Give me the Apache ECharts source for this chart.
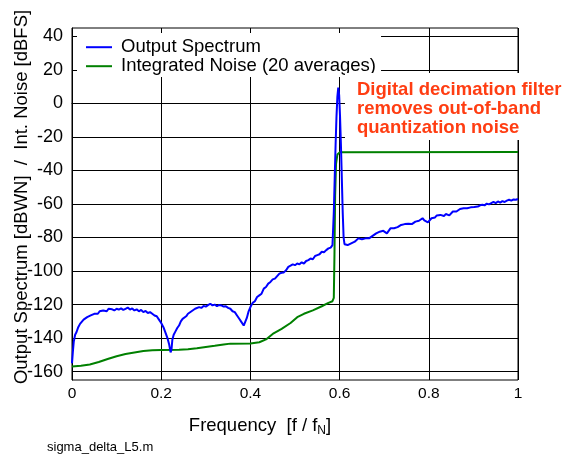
<!DOCTYPE html>
<html>
<head>
<meta charset="utf-8">
<script src="https://cdn.jsdelivr.net/npm/echarts@6/dist/echarts.min.js"></script>
<style>
html,body{margin:0;padding:0;background:#fff;}
#chart{width:563px;height:461px;}
</style>
</head>
<body>
<div id="chart"></div>
<script>
// ---- data ----
var xTicks = [0, 0.2, 0.4, 0.6, 0.8, 1];
var yTicks = [-160, -140, -120, -100, -80, -60, -40, -20, 0, 20, 40];

var blueFreq = [0.000,0.002,0.004,0.007,0.010,0.014,0.018,0.022,0.026,0.030,0.034,0.038,0.042,0.046,0.050,0.054,0.058,0.062,0.066,0.070,0.074,0.078,0.082,0.086,0.090,0.095,0.100,0.105,0.110,0.115,0.120,0.125,0.130,0.135,0.140,0.145,0.150,0.155,0.160,0.165,0.170,0.175,0.180,0.185,0.190,0.195,0.200,0.205,0.210,0.214,0.218,0.221,0.223,0.225,0.228,0.232,0.236,0.240,0.244,0.248,0.252,0.256,0.260,0.264,0.268,0.272,0.276,0.280,0.285,0.290,0.295,0.300,0.305,0.310,0.315,0.320,0.325,0.330,0.335,0.340,0.345,0.350,0.355,0.360,0.365,0.370,0.375,0.380,0.385,0.388,0.392,0.396,0.400,0.405,0.410,0.415,0.420,0.425,0.430,0.435,0.440,0.445,0.450,0.455,0.460,0.465,0.470,0.475,0.480,0.485,0.490,0.495,0.500,0.505,0.510,0.515,0.520,0.525,0.530,0.535,0.540,0.545,0.550,0.555,0.560,0.565,0.570,0.575,0.580,0.584,0.587,0.589,0.591,0.593,0.595,0.597,0.599,0.601,0.603,0.605,0.607,0.609,0.611,0.614,0.618,0.622,0.626,0.630,0.634,0.638,0.642,0.646,0.650,0.654,0.658,0.662,0.666,0.670,0.674,0.678,0.682,0.686,0.690,0.694,0.698,0.702,0.706,0.710,0.714,0.718,0.722,0.726,0.730,0.734,0.738,0.742,0.746,0.750,0.754,0.758,0.762,0.766,0.770,0.774,0.778,0.782,0.786,0.790,0.794,0.798,0.802,0.806,0.810,0.814,0.818,0.822,0.826,0.830,0.834,0.838,0.842,0.846,0.850,0.854,0.858,0.862,0.866,0.870,0.874,0.878,0.882,0.886,0.890,0.894,0.898,0.902,0.906,0.910,0.915,0.920,0.925,0.930,0.935,0.940,0.945,0.950,0.955,0.960,0.965,0.970,0.975,0.980,0.985,0.990,0.995,1.000];
var blueDb = [-155,-148,-142,-138,-136.5,-133.5,-131.5,-130.5,-129,-128.5,-127.5,-128,-126.5,-127,-125.5,-124.5,-125.5,-124,-125,-123.5,-122.5,-124,-122.5,-123.5,-122.8,-123.5,-122.5,-123,-122.3,-123.2,-122.5,-121.8,-123,-122.3,-123.5,-122.8,-124,-123.2,-124.5,-123.8,-125,-124.5,-125.5,-126.5,-127,-129,-131,-133.5,-137,-140,-144,-148.5,-147,-141,-138,-136,-134,-132.5,-130,-128.5,-129.5,-127,-125.5,-126,-124,-123.5,-122.5,-123,-121.5,-122,-120.8,-121.2,-120.3,-119.5,-120.5,-120,-121,-120.2,-120.5,-121.2,-121,-122,-122.5,-124,-124.5,-126.5,-128.5,-130.5,-132.5,-131.5,-128,-124,-121.5,-119,-118,-115.5,-114.5,-113.5,-110.5,-109.5,-107.5,-106.5,-105,-104.5,-103,-101.5,-101,-100.8,-99.5,-97.5,-96.8,-96,-96.5,-95.5,-96,-94.8,-95.5,-94,-93.5,-92.5,-93,-91,-90.5,-90,-88.5,-88.8,-87.5,-86.5,-86,-84.5,-65,-45,-25,-8,4,9.5,5,-8,-25,-45,-65,-80,-84,-85,-84.5,-84,-83.5,-83.8,-82.5,-82,-80.5,-79.5,-81,-80.2,-80.5,-81.5,-80.5,-79.8,-79,-78.5,-77.5,-77,-76.5,-75.5,-76,-75,-77.5,-76.5,-74.5,-73.8,-74.5,-73.5,-73.8,-73,-72.5,-73,-72,-72.5,-71.8,-71.5,-72,-71,-70.5,-71,-70,-69.5,-68.5,-69.8,-70.2,-71,-70.5,-68.5,-67.5,-68,-66.8,-67.5,-66.5,-66.2,-67.2,-66,-65.5,-66.8,-66,-64.5,-64,-64.5,-63.5,-63,-63.8,-62.5,-62.8,-62.5,-63.2,-62,-61.5,-61.8,-61,-61.5,-60.8,-60.5,-60.8,-59.8,-60.2,-59.5,-58.8,-59.5,-58.5,-59.2,-58.3,-58.8,-58,-57.5,-58,-57.3,-57.5,-57];

var greenFreq = [0,0.02,0.04,0.06,0.08,0.10,0.12,0.14,0.16,0.18,0.20,0.24,0.26,0.28,0.30,0.32,0.34,0.355,0.40,0.42,0.435,0.45,0.47,0.49,0.505,0.52,0.54,0.56,0.575,0.584,0.587,0.5885,0.590,0.592,0.595,0.600,1.000];
var greenDb = [-157,-156.5,-155.7,-154.3,-152.5,-150.8,-149.5,-148.6,-147.7,-147.3,-147.1,-146.9,-146.6,-146,-145.3,-144.6,-143.8,-143.3,-143.2,-142.5,-140.8,-137.5,-134.5,-131,-127.5,-125.5,-123.5,-121,-119,-118,-116,-90,-55,-36,-30.5,-29.2,-29];

var seriesNames = ['Output Spectrum', 'Integrated Noise (20 averages)'];
var noteLines = ['Digital decimation filter', 'removes out-of-band', 'quantization noise'];
var footnote = 'sigma_delta_L5.m';

function pairs(xs, ys) { return xs.map(function (x, i) { return [x, ys[i]]; }); }

var FONT = 'Liberation Sans, Arial, Helvetica, sans-serif';
var chart = echarts.init(document.getElementById('chart'), null, {renderer: 'canvas'});
var transp = 'rgba(0,0,0,0)';

chart.setOption({
  animation: false,
  backgroundColor: '#fff',
  textStyle: {fontFamily: FONT, color: '#000'},
  grid: {left: 72, right: 45, top: 28, bottom: 81, show: true, borderColor: '#000', borderWidth: 1, backgroundColor: 'transparent', containLabel: false, outerBoundsMode: 'none'},
  legend: {
    left: 77, top: 33, orient: 'vertical', backgroundColor: '#fff',
    padding: [4.7, 5, 1.3, 9], itemGap: 0, itemWidth: 26, itemHeight: 2, icon: 'rect',
    textStyle: {fontSize: 18.5, fontFamily: FONT, color: '#000', lineHeight: 16, padding: [0, 0, 0, 4]},
    data: seriesNames
  },
  xAxis: {
    type: 'value', min: xTicks[0], max: xTicks[xTicks.length - 1], interval: 0.2,
    axisLine: {show: true, lineStyle: {color: '#000', width: 1}},
    axisTick: {show: false},
    axisLabel: {fontSize: 15.5, color: '#000', margin: 6, fontFamily: FONT,
      formatter: function (v) { return String(v); }},
    splitLine: {show: true, lineStyle: {color: '#000', width: 1}},
    name: 'Frequency  [f / f{sub|N}]',
    nameLocation: 'middle', nameGap: 35, nameMoveOverlap: false,
    nameTextStyle: {fontSize: 18.5, color: '#000', fontFamily: FONT, lineHeight: 22, padding: [0, 70, 0, 0],
      rich: {sub: {fontSize: 12, fontFamily: FONT, color: '#000', lineHeight: 12, verticalAlign: 'bottom'}}}
  },
  yAxis: {
    type: 'value', min: -165, max: 45, interval: 5,
    axisLine: {show: true, lineStyle: {color: '#000', width: 1}},
    axisTick: {show: false},
    axisLabel: {fontSize: 18, color: '#000', margin: 9, fontFamily: FONT,
      formatter: function (v) { return yTicks.indexOf(Math.round(v)) >= 0 && Math.abs(v - Math.round(v)) < 1e-6 ? String(Math.round(v)) : ''; }},
    splitLine: {show: true, lineStyle: {color: [transp, '#000', transp, transp], width: 1}},
    name: 'Output Spectrum [dBWN]  /  Int. Noise [dBFS]',
    nameLocation: 'middle', nameGap: 41, nameMoveOverlap: false,
    nameTextStyle: {fontSize: 18.5, color: '#000', fontFamily: FONT, padding: [0, 0, 0, 14]}
  },
  series: [
    {name: seriesNames[0], type: 'line', data: pairs(blueFreq, blueDb), showSymbol: false, symbol: 'none',
      lineStyle: {color: '#0000FF', width: 2}, itemStyle: {color: '#0000FF'}, z: 3},
    {name: seriesNames[1], type: 'line', data: pairs(greenFreq, greenDb), showSymbol: false, symbol: 'none',
      lineStyle: {color: '#008000', width: 2}, itemStyle: {color: '#008000'}, z: 2}
  ],
  graphic: [
    {type: 'rect', shape: {x: 345, y: 73, width: 218, height: 67}, style: {fill: '#fff'}, z: 10},
    {type: 'text', x: 357, y: 80, z: 11, style: {text: noteLines.join('\n'), font: 'bold 18.5px ' + FONT, fill: '#FF3D12', lineHeight: 19, verticalAlign: 'top', align: 'left'}},
    {type: 'text', x: 47, y: 441, z: 11, style: {text: footnote, font: '13px ' + FONT, fill: '#000', lineHeight: 13, verticalAlign: 'top', align: 'left'}}
  ]
});
</script>
</body>
</html>
